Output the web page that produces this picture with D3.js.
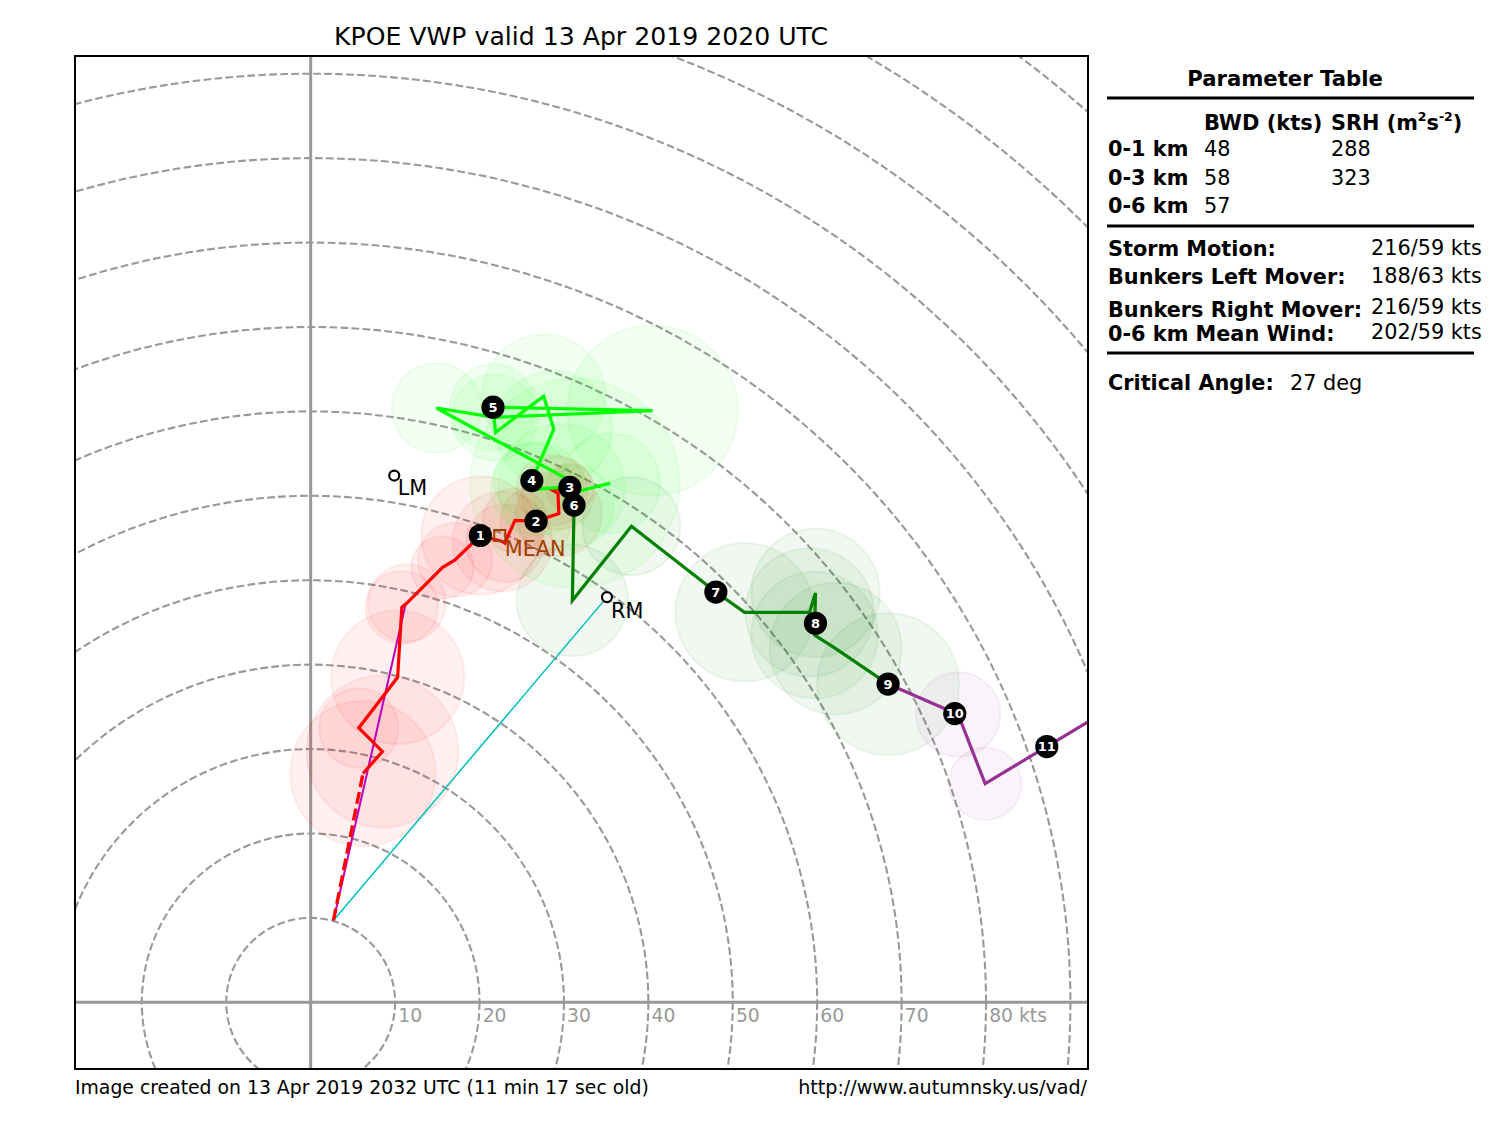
<!DOCTYPE html>
<meta charset="utf-8">
<style>
  body { margin: 0; background: #fff; }
  text { font-family: "DejaVu Sans", sans-serif; }
</style>
<script src="https://d3js.org/d3.v7.min.js"></script>
<div id="my_dataviz"></div>
<script>
// hodograph data, u / v / uncertainty radius, all in kts
var dashU = [2.7, 6.2];
var dashV = [9.7, 27.1];

var redU = [6.2, 8.5, 5.7, 10.3, 10.8, 11.4, 15.6, 17.1, 20.1, 22.7, 23.0, 24.2, 26.7, 29.4, 29.3, 28.6, 30.7];
var redV = [27.1, 29.7, 32.5, 38.5, 46.8, 47.3, 51.5, 52.4, 55.3, 54.6, 54.4, 57.1, 57.0, 57.9, 60.3, 60.7, 61.0];
var redR = [8.6, 9.0, 4.7, 7.9, 4.3, 4.6, 3.7, 4.4, 7.0, 5.9, 4.6, 3.8, 4.2, 5.1, 4.3, 4.2, 2.8];

var greenU = [29.7, 26.9, 26.2, 28.8, 27.6, 21.9, 21.6, 40.5, 21.8, 14.9, 31.3, 30.8, 35.5, 30.8, 31.2];
var greenV = [61.0, 60.8, 61.8, 67.9, 71.8, 67.5, 70.5, 70.1, 69.3, 70.4, 61.5, 60.3, 61.5, 60.3, 58.9];
var greenR = [7.5, 5.5, 4.5, 6.9, 7.3, 0, 5.1, 10.1, 5.1, 5.3, 12.4, 0, 5.9, 0, 4.7];

var dkgreenU = [31.2, 31.0, 38.0, 48.0, 51.4, 59.1, 59.8, 59.7, 62.2, 68.4];
var dkgreenV = [58.9, 47.6, 56.4, 48.6, 46.2, 46.2, 48.5, 43.5, 41.9, 37.7];
var dkgreenR = [0, 6.6, 5.8, 0, 8.2, 7.6, 7.6, 7.5, 7.8, 8.4];

var purpleU = [68.4, 76.7, 79.9, 87.2, 95.9];
var purpleV = [37.7, 34.1, 25.9, 30.3, 35.5];
var purpleR = [0, 5.0, 4.3, 0, 0];

var labelNames = ["1", "2", "3", "4", "5", "6", "7", "8", "9", "10", "11"];
var labelU = [20.1, 26.7, 30.7, 26.2, 21.6, 31.2, 48.0, 59.8, 68.4, 76.3, 87.2];
var labelV = [55.3, 57.0, 61.0, 61.8, 70.5, 58.9, 48.6, 44.9, 37.7, 34.2, 30.3];

var ringTicks = d3.range(10, 150, 10);
var axisTicks = ["10", "20", "30", "40", "50", "60", "70", "80 kts"];

var stormOrigin = [2.7, 9.7];
var leftMover = [9.9, 62.4];
var rightMover = [35.1, 48.0];
var bunkersTop = [11.3, 47.4];
var meanWind = [22.4, 55.3];

var svg = d3.select("#my_dataviz").append("svg")
  .attr("width", 1500).attr("height", 1125).style("display", "block");

var left = 75, right = 1088, top_ = 56, bottom = 1069;
var x = d3.scaleLinear().domain([-28, 92]).range([left - 0.7, right - 0.7]);
var y = d3.scaleLinear().domain([-7.9, 112.1]).range([bottom, top_]);
var kts = d => x(d) - x(0);

svg.append("clipPath").attr("id", "plotclip").append("rect")
  .attr("x", left).attr("y", top_).attr("width", right - left).attr("height", bottom - top_);

var plot = svg.append("g").attr("clip-path", "url(#plotclip)");

// range rings
plot.selectAll(".ring").data(ringTicks).enter().append("circle")
  .attr("cx", x(0)).attr("cy", y(0)).attr("r", d => kts(d))
  .attr("fill", "none").attr("stroke", "#999").attr("stroke-width", 2.1)
  .attr("stroke-dasharray", "7.7,3.3");

// axes through the origin
plot.append("line").attr("x1", x(0)).attr("x2", x(0)).attr("y1", top_).attr("y2", bottom)
  .attr("stroke", "#999").attr("stroke-width", 3);
plot.append("line").attr("x1", left).attr("x2", right).attr("y1", y(0)).attr("y2", y(0))
  .attr("stroke", "#999").attr("stroke-width", 3);

svg.selectAll(".ticklab").data(axisTicks).enter().append("text")
  .attr("x", (d, i) => x((i + 1) * 10) + 3.2)
  .attr("y", y(0) + 19.5)
  .attr("font-size", 18.75).attr("fill", "#999")
  .text(d => d);

function series(U, V, R, color, alpha) {
  return {pts: U.map((u, i) => [u, V[i], R[i]]), color: color, alpha: alpha};
}
var all = [
  series(redU, redV, redR, "#ff0000", 0.055),
  series(greenU, greenV, greenR, "#00ff00", 0.05),
  series(dkgreenU, dkgreenV, dkgreenR, "#008000", 0.055),
  series(purpleU, purpleV, purpleR, "#963096", 0.055)
];

var line = d3.line().x(d => x(d[0])).y(d => y(d[1]));

all.forEach(s => {
  plot.selectAll(null).data(s.pts.filter(d => d[2] > 0)).enter().append("circle")
    .attr("cx", d => x(d[0])).attr("cy", d => y(d[1])).attr("r", d => kts(d[2]))
    .attr("fill", s.color).attr("fill-opacity", s.alpha)
    .attr("stroke", s.color).attr("stroke-opacity", 0.07).attr("stroke-width", 2);
});

// mean shear lines
plot.append("path").datum([stormOrigin, bunkersTop]).attr("d", line)
  .attr("stroke", "#bf00bf").attr("stroke-width", 2).attr("fill", "none");
plot.append("path").datum([stormOrigin, rightMover]).attr("d", line)
  .attr("stroke", "#00bfbf").attr("stroke-width", 1.5).attr("fill", "none");

plot.append("path").datum(dashU.map((u, i) => [u, dashV[i]])).attr("d", line)
  .attr("stroke", "#ff0000").attr("stroke-width", 3.4).attr("fill", "none")
  .attr("stroke-dasharray", "12,5");

all.forEach(s => {
  plot.append("path").datum(s.pts).attr("d", line)
    .attr("stroke", s.color).attr("stroke-width", 3.2).attr("fill", "none")
    .attr("stroke-linejoin", "miter");
});

// storm motion markers
[[leftMover, "LM", 3.5, 19.5], [rightMover, "RM", 4, 20.5]].forEach(m => {
  svg.append("circle").attr("cx", x(m[0][0])).attr("cy", y(m[0][1])).attr("r", 5)
    .attr("fill", "#fff").attr("stroke", "#000").attr("stroke-width", 2.2);
  svg.append("text").attr("x", x(m[0][0]) + m[2]).attr("y", y(m[0][1]) + m[3])
    .attr("font-size", 20.8).attr("fill", "#000").text(m[1]);
});

svg.append("rect")
  .attr("x", x(meanWind[0]) - 5.5).attr("y", y(meanWind[1]) - 5.5)
  .attr("width", 11).attr("height", 11)
  .attr("fill", "none").attr("stroke", "#a04000").attr("stroke-width", 2);
svg.append("text").attr("x", x(meanWind[0]) + 5).attr("y", y(meanWind[1]) + 20.5)
  .attr("font-size", 20.8).attr("fill", "#a04000").text("MEAN");

// height markers
var labelG = svg.selectAll(".hgt").data(labelNames).enter().append("g")
  .attr("transform", (d, i) => "translate(" + x(labelU[i]) + "," + y(labelV[i]) + ")");
labelG.append("circle").attr("r", 11.6).attr("fill", "#000");
labelG.append("text").attr("text-anchor", "middle").attr("y", 4.5)
  .attr("font-size", 13).attr("font-weight", "bold").attr("fill", "#fff").text(d => d);

// frame
svg.append("rect").attr("x", left).attr("y", top_).attr("width", right - left).attr("height", bottom - top_)
  .attr("fill", "none").attr("stroke", "#000").attr("stroke-width", 2);

svg.append("text").attr("x", 581).attr("y", 45).attr("text-anchor", "middle")
  .attr("font-size", 25.15).attr("fill", "#000").text("KPOE VWP valid 13 Apr 2019 2020 UTC");
svg.append("text").attr("x", 75).attr("y", 1094)
  .attr("font-size", 18.82).text("Image created on 13 Apr 2019 2032 UTC (11 min 17 sec old)");
svg.append("text").attr("x", 1087).attr("y", 1094).attr("text-anchor", "end")
  .attr("font-size", 19.1).text("http://www.autumnsky.us/vad/");

// parameter table
function tableText(tx, ty, str, bold) {
  return svg.append("text").attr("x", tx).attr("y", ty)
    .attr("font-size", 20.8).attr("font-weight", bold ? "bold" : "normal").text(str);
}
tableText(1285, 86, "Parameter Table", true).attr("text-anchor", "middle").attr("font-size", 21.2);
[98, 226, 353].forEach(ly => {
  svg.append("line").attr("x1", 1107).attr("x2", 1474).attr("y1", ly).attr("y2", ly)
    .attr("stroke", "#000").attr("stroke-width", 3);
});
tableText(1204, 130, "BWD (kts)", true).attr("font-size", 21);
var srh = tableText(1331, 130, "SRH (m", true);
srh.append("tspan").attr("font-size", 12.5).attr("dy", -9).text("2");
srh.append("tspan").attr("dy", 9).text("s");
srh.append("tspan").attr("font-size", 12.5).attr("dy", -9).text("-2");
srh.append("tspan").attr("dy", 9).text(")");

var rowNames = ["0-1 km", "0-3 km", "0-6 km"];
var rowBwd = ["48", "58", "57"];
var rowSrh = ["288", "323", ""];
var rowY = [155.5, 184.5, 212.5];
rowNames.forEach((n, i) => {
  tableText(1108, rowY[i], n, true);
  tableText(1204, rowY[i], rowBwd[i]);
  tableText(1331, rowY[i], rowSrh[i]);
});

var motionNames = ["Storm Motion:", "Bunkers Left Mover:", "Bunkers Right Mover:", "0-6 km Mean Wind:"];
var motionVals = ["216/59 kts", "188/63 kts", "216/59 kts", "202/59 kts"];
var motionNameY = [255.5, 283.5, 316.5, 340.5];
var motionValY = [254.5, 283, 313.5, 339];
motionNames.forEach((n, i) => {
  tableText(1108, motionNameY[i], n, true);
  tableText(1371, motionValY[i], motionVals[i]);
});
tableText(1108, 390, "Critical Angle:", true);
tableText(1290, 390, "27 deg");
</script>
